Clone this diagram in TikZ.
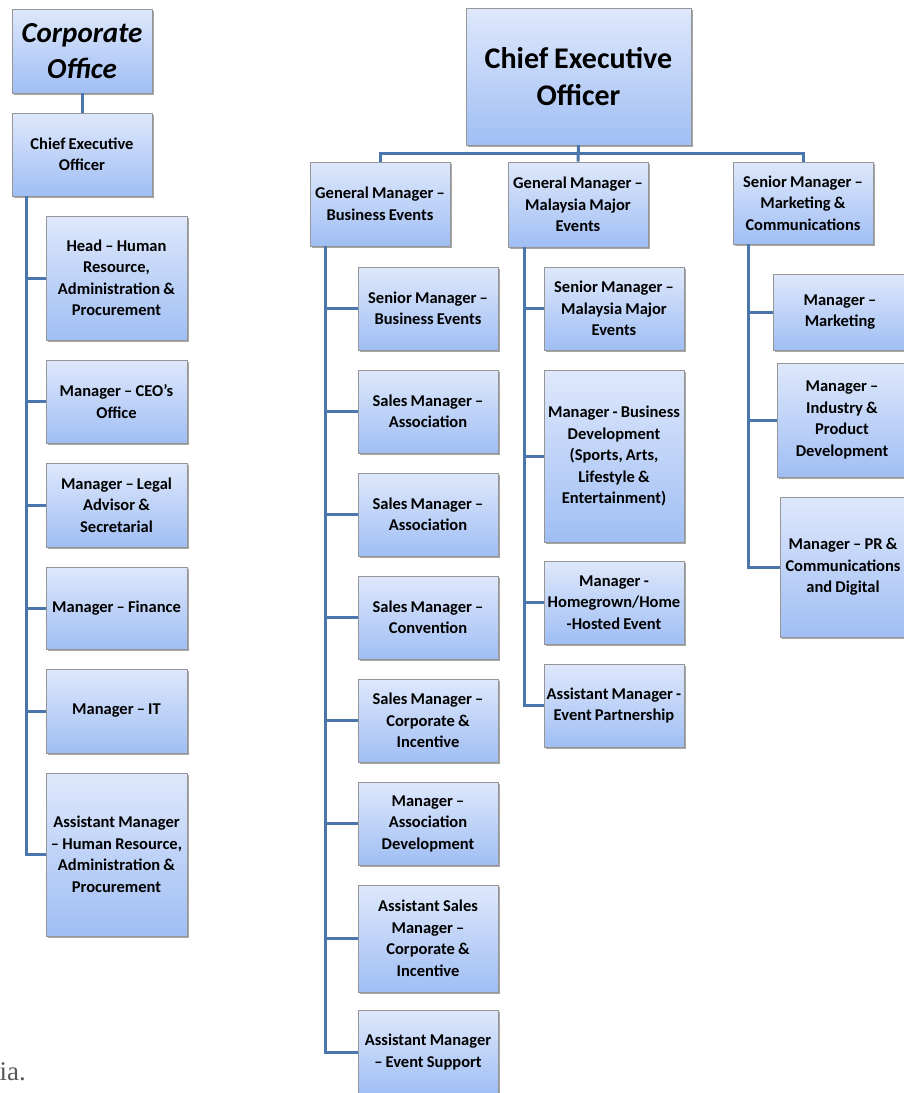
\documentclass[tikz,border=0pt]{standalone}
\usepackage{fontspec}
\setmainfont{Carlito}[WordSpace=0.85]
\newfontfamily\serifgray{Liberation Serif}
\usetikzlibrary{shadows}
\definecolor{boxtop}{HTML}{DEE8FB}
\definecolor{boxbot}{HTML}{A0BEF4}
\definecolor{boxline}{HTML}{969696}
\definecolor{connc}{HTML}{4A76AC}
\begin{document}
\begin{tikzpicture}[x=1pt,y=-1pt,
  box/.style={draw=boxline, line width=0.7pt, top color=boxtop, bottom color=boxbot,
    drop shadow={shadow xshift=1.5pt, shadow yshift=-1.8pt, fill=black, opacity=0.35},
    align=center, inner sep=0pt,
    font=\bfseries\fontsize{16.5}{21.5}\selectfont},
  bw/.style={minimum width=#1},
  conn/.style={draw=connc, line width=3pt, line join=miter}]
\useasboundingbox (0,0) rectangle (904,1093);

% ---------- left: corporate office ----------
\node[box, bw=140pt, minimum height=84pt, font=\bfseries\itshape\fontsize{29}{36}\selectfont] (corp) at (82,51) {Corporate\\Office};
\node[box, bw=140pt, minimum height=83pt] (lceo) at (82,154.5) {Chief Executive\\Officer};
\node[box, bw=141pt, minimum height=124pt] (l1) at (116.5,278) {Head -- Human\\Resource,\\Administration \&\\Procurement};
\node[box, bw=141pt, minimum height=83pt] (l2) at (116.5,401.5) {Manager -- CEO's\\Office};
\node[box, bw=141pt, minimum height=84pt] (l3) at (116.5,505) {Manager -- Legal\\Advisor \&\\Secretarial};
\node[box, bw=141pt, minimum height=82pt] (l4) at (116.5,608) {Manager -- Finance};
\node[box, bw=141pt, minimum height=84pt] (l5) at (116.5,711) {Manager -- IT};
\node[box, bw=141pt, minimum height=163pt] (l6) at (116.5,854.5) {Assistant Manager\\-- Human Resource,\\Administration \&\\Procurement};

\coordinate (lt) at (26,0);
\draw[conn] (corp.south) -- (corp.south |- lceo.north);
\foreach \n in {l1,l2,l3,l4,l5,l6}
  \draw[conn] (lceo.south -| lt) |- (\n.west);

% ---------- main CEO ----------
\node[box, bw=225pt, minimum height=137pt, font=\bfseries\fontsize{30}{37}\selectfont] (ceo) at (578.5,76.5) {Chief Executive\\Officer};

\node[box, bw=140pt, minimum height=84pt] (gm1) at (380,204) {General Manager --\\Business Events};
\node[box, bw=140pt, minimum height=85pt] (gm2) at (578,204.5) {General Manager --\\Malaysia Major\\Events};
\node[box, bw=140pt, minimum height=82pt] (gm3) at (803,203) {Senior Manager --\\Marketing \&\\Communications};

\draw[conn] (ceo.south) -- ++(0,8) -| (gm1.north);
\draw[conn] (ceo.south) -- ++(0,8) -| (gm3.north);
\draw[conn] (ceo.south) -- (gm2.north);

% ---------- business events ----------
\node[box, bw=140pt, minimum height=83pt] (m1) at (428,308.5) {Senior Manager --\\Business Events};
\node[box, bw=140pt, minimum height=83pt] (m2) at (428,411.5) {Sales Manager --\\Association};
\node[box, bw=140pt, minimum height=83pt] (m3) at (428,514.5) {Sales Manager --\\Association};
\node[box, bw=140pt, minimum height=83pt] (m4) at (428,617.5) {Sales Manager --\\Convention};
\node[box, bw=140pt, minimum height=83pt] (m5) at (428,720.5) {Sales Manager --\\Corporate \&\\Incentive};
\node[box, bw=140pt, minimum height=83pt] (m6) at (428,823.5) {Manager --\\Association\\Development};
\node[box, bw=140pt, minimum height=107pt] (m7) at (428,938.5) {Assistant Sales\\Manager --\\Corporate \&\\Incentive};
\node[box, bw=140pt, minimum height=84pt] (m8) at (428,1052) {Assistant Manager\\-- Event Support};

\coordinate (mt) at (325,0);
\foreach \n in {m1,m2,m3,m4,m5,m6,m7,m8}
  \draw[conn] (gm1.south -| mt) |- (\n.west);

% ---------- malaysia major events ----------
\node[box, bw=140pt, minimum height=83pt] (t1) at (614,308.5) {Senior Manager --\\Malaysia Major\\Events};
\node[box, bw=140pt, minimum height=172pt] (t2) at (614,456) {Manager - Business\\Development\\(Sports, Arts,\\Lifestyle \&\\Entertainment)};
\node[box, bw=140pt, minimum height=83pt] (t3) at (614,602.5) {Manager -\\Homegrown/Home\\-Hosted Event};
\node[box, bw=140pt, minimum height=83pt] (t4) at (614,705.5) {Assistant Manager -\\Event Partnership};

\coordinate (tt) at (524,0);
\foreach \n in {t1,t2,t3,t4}
  \draw[conn] (gm2.south -| tt) |- (\n.west);

% ---------- marketing ----------
\node[box, bw=134pt, minimum height=76pt] (r1) at (840,312) {Manager --\\Marketing};
\node[box, bw=130pt, minimum height=114pt] (r2) at (842,420) {Manager --\\Industry \&\\Product\\Development};
\node[box, bw=126pt, minimum height=140pt] (r3) at (843,567) {Manager -- PR \&\\Communications\\and Digital};

\coordinate (rt) at (748,0);
\foreach \n in {r1,r2,r3}
  \draw[conn] (gm3.south -| rt) |- (\n.west);

% ---------- stray text fragment ----------
\node[anchor=base east, inner sep=0pt, text=black!65, font=\serifgray\fontsize{27}{30}\selectfont] (frag) at (26,1080) {dia.};
\end{tikzpicture}
\end{document}
